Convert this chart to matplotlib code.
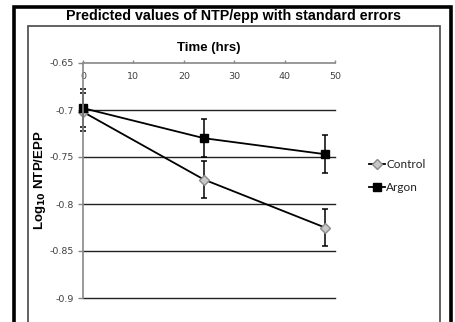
import matplotlib.pyplot as plt
from matplotlib.patches import Rectangle
from matplotlib.lines import Line2D
import numpy as np

# data
hours = [0, 24, 48]
control = [-0.702, -0.774, -0.825]
argon = [-0.698, -0.730, -0.747]
control_se = [0.020, 0.020, 0.020]
argon_se = [0.020, 0.020, 0.020]
y_ticks = [-0.65, -0.7, -0.75, -0.8, -0.85, -0.9]
y_tick_labels = ['-0.65', '-0.7', '-0.75', '-0.8', '-0.85', '-0.9']
x_ticks = [0, 10, 20, 30, 40, 50]

W, H = 456, 322
fig = plt.figure(figsize=(W / 100, H / 100), dpi=100)
fig.patch.set_facecolor('white')


def px(x0, y0, x1, y1):
    # pixel box (top-left origin) -> figure fraction [l, b, w, h]
    return [x0 / W, 1 - y1 / H, (x1 - x0) / W, (y1 - y0) / H]


# frames
fig.patches.append(Rectangle((14.5 / W, -0.05), (451.5 - 14.5) / W, 1.05 - 6.5 / H,
                             transform=fig.transFigure, fill=False,
                             edgecolor='black', linewidth=2.6))
fig.patches.append(Rectangle((28 / W, -0.05), (440 - 28) / W, 1.05 - 26 / H,
                             transform=fig.transFigure, fill=False,
                             edgecolor='#555555', linewidth=1.3))

fig.text(234 / W, 1 - 16 / H, 'Predicted values of NTP/epp with standard errors',
         ha='center', va='center', fontsize=10.3, fontweight='bold',
         family='Liberation Sans')

ax = fig.add_axes(px(83, 63, 335, 298))
ax.set_xlim(0, 50)
ax.set_ylim(-0.9, -0.65)

for y in y_ticks[1:]:
    ax.axhline(y, color='#222222', linewidth=1.0, zorder=1, clip_on=False)

ctrl_style = dict(color='black', linewidth=1.3, marker='D', markersize=5.5,
                  markerfacecolor='#c8c8c8', markeredgecolor='#8a8a8a')
argon_style = dict(color='black', linewidth=1.3, marker='s', markersize=6,
                   markerfacecolor='black', markeredgecolor='black')

ax.errorbar(hours, argon, yerr=argon_se, ecolor='black', elinewidth=1.1,
            capsize=2.5, capthick=1.1, clip_on=False, zorder=4, **argon_style)
ax.errorbar(hours, control, yerr=control_se, ecolor='black', elinewidth=1.1,
            capsize=2.5, capthick=1.1, clip_on=False, zorder=3, **ctrl_style)

for s in ['right', 'bottom']:
    ax.spines[s].set_visible(False)
for s in ['left', 'top']:
    ax.spines[s].set_color('#888888')
    ax.spines[s].set_linewidth(1.2)
    ax.spines[s].set_zorder(5)

ax.set_yticks(y_ticks)
ax.set_yticklabels(y_tick_labels)
ax.set_xticks(x_ticks)
ax.tick_params(axis='y', direction='out', length=3.5, width=1, color='#888888',
               labelsize=6.8, labelcolor='#404040', pad=3)
ax.tick_params(axis='x', top=True, labeltop=True, bottom=False, labelbottom=False,
               direction='out', length=2.5, width=1, color='#888888',
               labelsize=6.8, labelcolor='#404040', pad=-15.5)
ax.xaxis.set_label_position('top')
ax.set_xlabel('Time (hrs)', fontsize=9.5, fontweight='bold',
              family='Liberation Sans', labelpad=6)
ax.set_ylabel(r'Log$_{\mathbf{10}}$ NTP/EPP', fontsize=9.5, fontweight='bold',
              family='Liberation Sans', labelpad=1)

handles = [Line2D([], [], **ctrl_style), Line2D([], [], **argon_style)]
leg = ax.legend(handles, ['Control', 'Argon'],
                loc='center left', bbox_to_anchor=(358 / W, 1 - 176 / H),
                bbox_transform=fig.transFigure, frameon=False,
                handlelength=1.4, handletextpad=0.1, labelspacing=1.0,
                prop={'family': 'Lato', 'size': 8.5})
for t in leg.get_texts():
    t.set_color('#222222')

fig.savefig('out.png', dpi=100)
